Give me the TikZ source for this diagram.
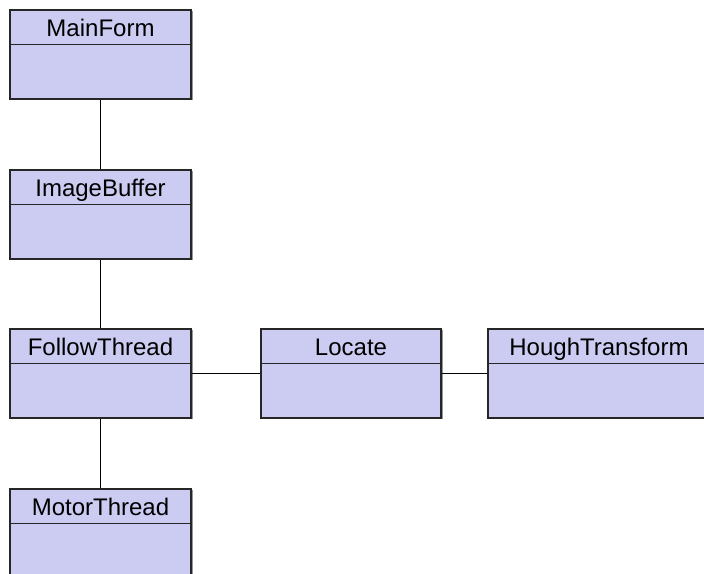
\documentclass[tikz,border=0pt]{standalone}
\usepackage{fontspec}
\setmainfont{Liberation Sans}
\definecolor{classfill}{RGB}{204,204,242}
\definecolor{shadowgray}{RGB}{150,150,150}
\tikzset{
  x=1pt,y=1pt,
  classbox/.style={draw=black!85, line width=1.3pt, fill=classfill, rectangle,
    inner sep=0pt, minimum height=89pt},
  classname/.style={font=\fontsize{24}{28}\selectfont, anchor=base, inner sep=0pt},
  link/.style={draw=black, line width=0.8pt},
}
\newcommand{\umlclass}[5]{% name, x, y, width, label
  \fill[shadowgray] ([xshift=1.5pt,yshift=-1.5pt]#2-#4/2,#3-44.5) rectangle ([xshift=1.5pt,yshift=-1.5pt]#2+#4/2,#3+44.5);
  \node[classbox, minimum width=#4 pt] (#1) at (#2,#3) {};
  \draw[black!85, line width=1.3pt] ([yshift=-35pt]#1.north west) -- ([yshift=-35pt]#1.north east);
  \node[classname] (#1-t) at ([yshift=-27pt]#1.north) {#5};
}
\begin{document}
\begin{tikzpicture}
\useasboundingbox (0,0) rectangle (704,573);
\clip (0,0) rectangle (704,573);
\fill[white] (0,0) rectangle (704,573);
\umlclass{mf}{100.5}{518.5}{181}{MainForm}
\umlclass{ib}{100.5}{358.5}{181}{ImageBuffer}
\umlclass{ft}{100.5}{199.5}{181}{FollowThread}
\umlclass{mt}{100.5}{39.5}{181}{MotorThread}
\umlclass{lo}{351}{199.5}{180}{Locate}
\umlclass{ht}{599}{199.5}{222}{HoughTransform}
\draw[link] (mf.south) -- (ib.north);
\draw[link] (ib.south) -- (ft.north);
\draw[link] (ft.south) -- (mt.north);
\draw[link] (ft.east) -- (lo.west);
\draw[link] (lo.east) -- (ht.west);
\end{tikzpicture}
\end{document}
